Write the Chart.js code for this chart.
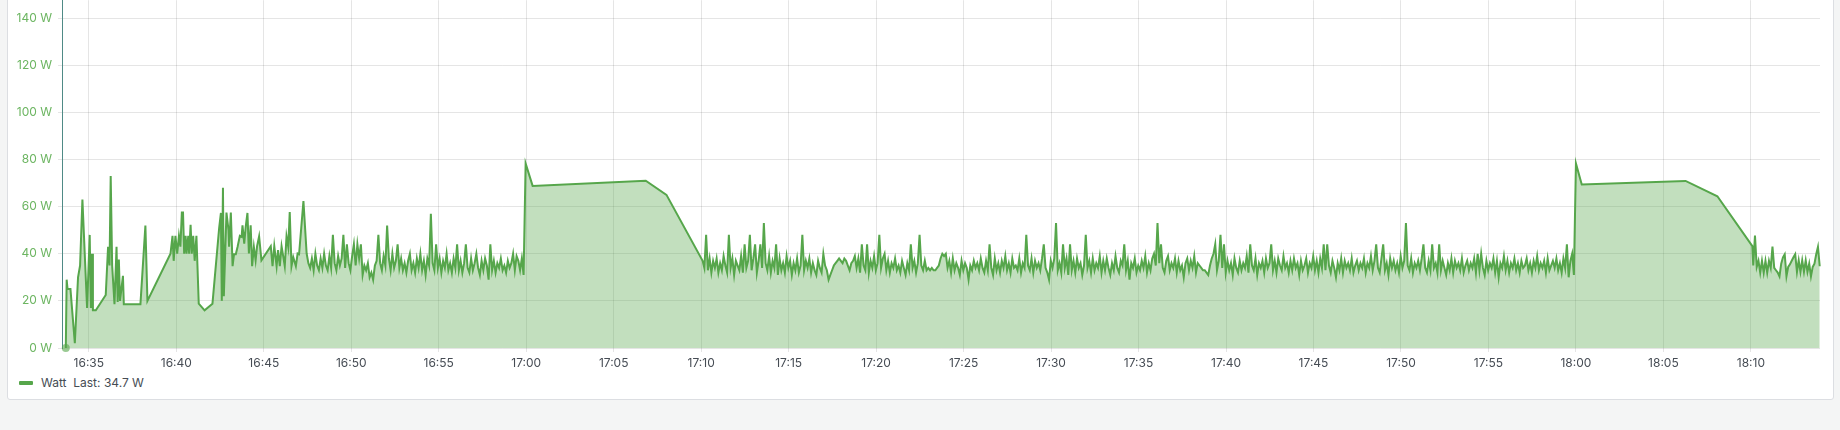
<!DOCTYPE html>
<html>
<head>
<meta charset="utf-8">
<title>Watt</title>
<script src="https://cdn.jsdelivr.net/npm/chart.js@4.4.1/dist/chart.umd.min.js"></script>
<style>
  html, body { margin: 0; padding: 0; }
  body { width: 1840px; height: 430px; background: #f4f5f5; position: relative; overflow: hidden; font-family: Inter, "Noto Sans", sans-serif; }
  #panel { position: absolute; left: 7px; top: -10px; width: 1827px; height: 410px; background: #fff; border: 1px solid #dcdee2; border-radius: 3px; box-sizing: border-box; }
  #chart { position: absolute; left: 8px; top: -13px; }
  #legend { position: absolute; left: 19px; top: 376px; height: 14px; line-height: 14px; font-size: 12px; color: #464c54; white-space: pre; }
  #legend .mark { display: inline-block; width: 14px; height: 4px; background: #56a64b; border-radius: 1px; vertical-align: middle; margin-right: 8px; position: relative; top: -1px; }
</style>
</head>
<body>
<div id="panel"></div>
<canvas id="chart" width="1827" height="383"></canvas>
<div id="legend"><span class="mark"></span>Watt  Last: 34.7 W</div>
<script>
// Eje X: etiquetas de hora cada 5 minutos
const xTickLabels = ['16:35', '16:40', '16:45', '16:50', '16:55', '17:00', '17:05', '17:10', '17:15', '17:20',
                     '17:25', '17:30', '17:35', '17:40', '17:45', '17:50', '17:55', '18:00', '18:05', '18:10'];
const xMin = '16:33:28';
const xMax = '18:13:57';
// Eje Y
const yTicks = [0, 20, 40, 60, 80, 100, 120, 140];
const yMax = 147.6;

// Intervalo de muestreo de las series regulares (segundos)
const sampleStep = 6;

// Arranque (muestras irregulares)
const startTimes = ['16:33:41', '16:33:44', '16:33:47', '16:33:57', '16:34:12', '16:34:23', '16:34:30', '16:34:38', '16:34:54', '16:35:03',
  '16:35:07', '16:35:11', '16:35:14', '16:35:24', '16:35:58', '16:36:06', '16:36:11', '16:36:15', '16:36:20', '16:36:28',
  '16:36:35', '16:36:39', '16:36:43', '16:36:47', '16:36:57', '16:37:00', '16:37:57', '16:38:14', '16:38:21', '16:39:40',
  '16:39:47', '16:39:51', '16:39:57', '16:40:03', '16:40:09', '16:40:14', '16:40:19', '16:40:23', '16:40:27', '16:40:32',
  '16:40:35', '16:40:41', '16:40:44', '16:40:49', '16:40:53', '16:40:58', '16:41:03', '16:41:09', '16:41:17', '16:41:37',
  '16:42:04', '16:42:27', '16:42:33', '16:42:36', '16:42:40', '16:42:43', '16:42:52', '16:42:59', '16:43:01', '16:43:07',
  '16:43:13', '16:43:18', '16:43:24', '16:43:30', '16:43:38', '16:43:44', '16:43:47', '16:43:53', '16:43:58', '16:44:04',
  '16:44:09', '16:44:15', '16:44:20', '16:44:26', '16:44:32', '16:44:37', '16:44:44', '16:44:52', '16:45:24', '16:45:30',
  '16:45:36', '16:45:44', '16:45:49', '16:45:55', '16:46:01', '16:46:06', '16:46:12', '16:46:18', '16:46:24', '16:46:29',
  '16:46:35', '16:46:41', '16:46:50', '16:46:56', '16:47:01', '16:47:16', '16:47:27'];
const startWatts = [0, 29, 25, 25, 2, 30, 35, 63, 17, 48,
  17, 40, 16, 16, 22.5, 43, 35, 73, 35, 18.6,
  43, 19.5, 37.5, 20, 30.6, 18.6, 18.6, 52, 20, 40,
  47.6, 37, 47.6, 40, 47.6, 43, 57.5, 57.5, 40, 47.6,
  40, 47.6, 40, 52.3, 40, 47.6, 37, 47.6, 18.8, 16,
  18.8, 51, 57.3, 20, 68, 22, 57.5, 50, 43, 57.5,
  34.7, 39.8, 39.8, 42.9, 47.6, 47.2, 52.1, 44.3, 51.4, 57.3,
  40.1, 52.1, 34.7, 42.9, 37.2, 43.2, 47.4, 37.2, 43.2, 34.7,
  43.2, 34.7, 41.5, 34.7, 43.2, 39.4, 34.7, 47.4, 42.9, 57.7,
  34.7, 38.6, 34.7, 40.1, 39.8, 62.4, 40.1];

// Tramo 1: 16:47:33 - 16:59:51
const run1Start = '16:47:33';
const run1Watts = [
  36, 34, 38, 33, 40, 35, 33, 38, 34, 40,
  35, 33, 39, 34, 48, 36, 33, 39, 35, 38,
  48, 34, 44, 36, 33, 39, 44, 35, 44, 38,
  44, 31, 35, 33, 36, 30, 32, 29, 35, 37,
  48, 36, 33, 39, 35, 52, 38, 33, 40, 34,
  37, 44, 34, 38, 33, 36, 32, 37, 40, 33,
  36, 32, 38, 34, 40, 33, 37, 31, 38, 35,
  57, 36, 33, 44, 34, 38, 32, 37, 34, 40,
  33, 36, 32, 38, 34, 44, 33, 37, 32, 36,
  44, 34, 32, 38, 33, 36, 40, 34, 31, 37,
  33, 38, 35, 29, 44, 33, 37, 32, 36, 34,
  38, 33, 35, 32, 37, 34, 36, 40, 33, 39,
  37, 33, 38, 31];

// Primer escalón
const peak1Times = ['16:59:58', '17:00:22', '17:06:50', '17:08:01'];
const peak1Watts = [78.3, 68.8, 71, 65];

// Tramo 2: 17:10:05 - 17:59:53
const run2Start = '17:10:05';
const run2Watts = [
  37, 34, 48, 33, 38, 32, 37, 34, 38, 32,
  36, 33, 39, 35, 32, 48, 34, 38, 31, 37,
  35, 33, 39, 32, 44, 34, 37, 48, 33, 38,
  44, 32, 37, 44, 34, 53, 36, 33, 39, 32,
  37, 34, 44, 31, 38, 33, 36, 32, 39, 34,
  37, 31, 36, 33, 38, 32, 35, 48, 33, 37,
  34, 38, 32, 36, 33, 31, 37, 34, 32, 40,
  35, 33, 29, 31, 33, 35, 36, 37, 38, 37,
  36, 38, 37, 35, 33, 36, 37, 39, 34, 38,
  32, 44, 35, 33, 44, 32, 37, 34, 39, 33,
  36, 48, 34, 38, 40, 33, 37, 32, 36, 34,
  38, 33, 35, 32, 37, 34, 31, 36, 33, 44,
  34, 37, 32, 36, 48, 35, 33, 37, 33, 34,
  33, 34, 33, 33, 34, 35, 38, 40, 39, 40,
  34, 37, 32, 38, 33, 36, 34, 31, 37, 33,
  36, 34, 29, 35, 33, 37, 34, 36, 33, 38,
  34, 32, 37, 33, 44, 34, 31, 38, 33, 36,
  32, 37, 34, 39, 33, 36, 32, 38, 34, 35,
  33, 38, 32, 36, 34, 48, 35, 33, 38, 32,
  37, 34, 36, 33, 38, 44, 34, 32, 29, 37,
  34, 38, 53, 33, 36, 32, 44, 34, 38, 31,
  44, 33, 37, 32, 38, 34, 36, 31, 35, 48,
  34, 37, 32, 38, 33, 36, 34, 39, 32, 37,
  33, 38, 34, 31, 36, 33, 39, 34, 32, 37,
  35, 44, 33, 37, 29, 36, 34, 38, 32, 35,
  33, 37, 34, 39, 32, 36, 33, 38, 40, 35,
  53, 36, 44, 34, 32, 37, 39, 33, 36, 34,
  38, 32, 37, 33, 35, 30, 36, 38, 33, 37,
  34, 39, 32, 36, 35, 34, 33, 33, 32, 31,
  35, 38, 40, 44, 33, 37, 48, 34, 44, 32,
  37, 33, 36, 31, 38, 34, 32, 37, 33, 36,
  34, 39, 32, 44, 35, 33, 38, 31, 36, 34,
  37, 32, 38, 34, 36, 44, 33, 37, 32, 38,
  35, 33, 39, 34, 36, 32, 37, 33, 38, 34,
  36, 31, 37, 33, 35, 38, 32, 36, 34, 39,
  33, 37, 32, 38, 34, 44, 33, 44, 35, 32,
  37, 34, 30, 36, 33, 38, 32, 37, 34, 36,
  33, 38, 32, 35, 37, 33, 36, 34, 38, 32,
  36, 34, 39, 33, 37, 44, 34, 32, 38, 44,
  33, 36, 31, 38, 34, 37, 33, 36, 32, 39,
  34, 37, 53, 35, 33, 38, 32, 36, 34, 37,
  33, 38, 44, 34, 32, 37, 33, 44, 34, 36,
  32, 44, 33, 37, 34, 31, 36, 33, 38, 32,
  37, 34, 36, 33, 38, 32, 35, 37, 33, 36,
  34, 38, 32, 40, 33, 40, 34, 31, 37, 33,
  36, 34, 38, 32, 37, 30, 36, 34, 39, 33,
  37, 32, 36, 34, 38, 33, 36, 32, 37, 34,
  35, 38, 33, 36, 32, 37, 34, 39, 33, 36,
  34, 37, 32, 38, 33, 35, 37, 34, 38, 33,
  36, 32, 38, 34, 44, 30, 37, 40, 31];

// Segundo escalón
const peak2Times = ['18:00:00', '18:00:20', '18:06:16', '18:08:05', '18:10:05'];
const peak2Watts = [78.3, 69.4, 70.9, 64.4, 43.2];

// Tramo 3: 18:10:08 - 18:13:56
const run3Start = '18:10:08';
const run3Watts = [
  35, 47.7, 34.4, 37, 32, 37, 32, 37, 32, 37,
  34, 43, 34, 33, 32, 30.4, 35.8, 38.5, 39.8, 30.4,
  34.4, 35.5, 37, 38.5, 39.8, 32.3, 37.2, 32.3, 37.2, 32.3,
  37.2, 32.3, 35.8, 30.4, 34.4, 35.8, 39.8, 42.9, 34.7];

const lineColor = '#56a64b';

function toSec(hms) {
    const parts = hms.split(':').map(Number);
    return parts[0] * 3600 + parts[1] * 60 + (parts[2] || 0);
}

function fmtTime(sec) {
    const h = Math.floor(sec / 3600);
    const m = Math.round((sec - h * 3600) / 60);
    return h + ':' + String(m).padStart(2, '0');
}

// Construir la serie completa
let points = [];
function addPairs(times, watts) {
    times.forEach((t, i) => points.push({ x: toSec(t), y: watts[i] }));
}
function addRun(start, watts) {
    const t0 = toSec(start);
    watts.forEach((w, i) => points.push({ x: t0 + i * sampleStep, y: w }));
}
addPairs(startTimes, startWatts);
addRun(run1Start, run1Watts);
addPairs(peak1Times, peak1Watts);
addRun(run2Start, run2Watts);
addPairs(peak2Times, peak2Watts);
addRun(run3Start, run3Watts);

const gridColor = 'rgba(0, 0, 0, 0.1)';

new Chart(document.getElementById('chart'), {
    type: 'line',
    data: {
        datasets: [{
            label: 'Watt',
            data: points,
            borderColor: lineColor,
            backgroundColor: 'rgba(86, 166, 75, 0.36)',
            borderWidth: 2,
            fill: 'origin',
            tension: 0,
            clip: false,
            pointRadius: c => c.dataIndex === 0 ? 4 : 0,
            pointHoverRadius: 0,
            pointBorderWidth: 0,
            pointBackgroundColor: 'rgba(86, 166, 75, 0.6)'
        }]
    },
    options: {
        responsive: false,
        animation: false,
        layout: { padding: { left: 0, right: 15, top: 0, bottom: 0 } },
        scales: {
            x: {
                type: 'linear',
                min: toSec(xMin),
                max: toSec(xMax),
                afterBuildTicks: s => { s.ticks = xTickLabels.map(l => ({ value: toSec(l) })); },
                afterFit: s => { s.height = 22; },
                ticks: {
                    callback: v => fmtTime(v),
                    color: '#464c54',
                    font: { family: 'Inter', size: 12 },
                    padding: 4,
                    maxRotation: 0,
                    autoSkip: false
                },
                grid: { color: gridColor, tickLength: 4 },
                border: { display: false }
            },
            y: {
                min: 0,
                max: yMax,
                afterBuildTicks: s => { s.ticks = yTicks.map(v => ({ value: v })); },
                afterFit: s => { s.width = 54; },
                ticks: {
                    callback: v => v + ' W',
                    color: '#6cb561',
                    font: { family: 'Inter', size: 12, lineHeight: 1.2 },
                    padding: 6
                },
                grid: { color: gridColor, tickLength: 4 },
                border: { display: true, color: '#4f8a86', width: 1 }
            }
        },
        plugins: {
            legend: { display: false },
            tooltip: { enabled: false }
        }
    }
});
</script>
</body>
</html>
